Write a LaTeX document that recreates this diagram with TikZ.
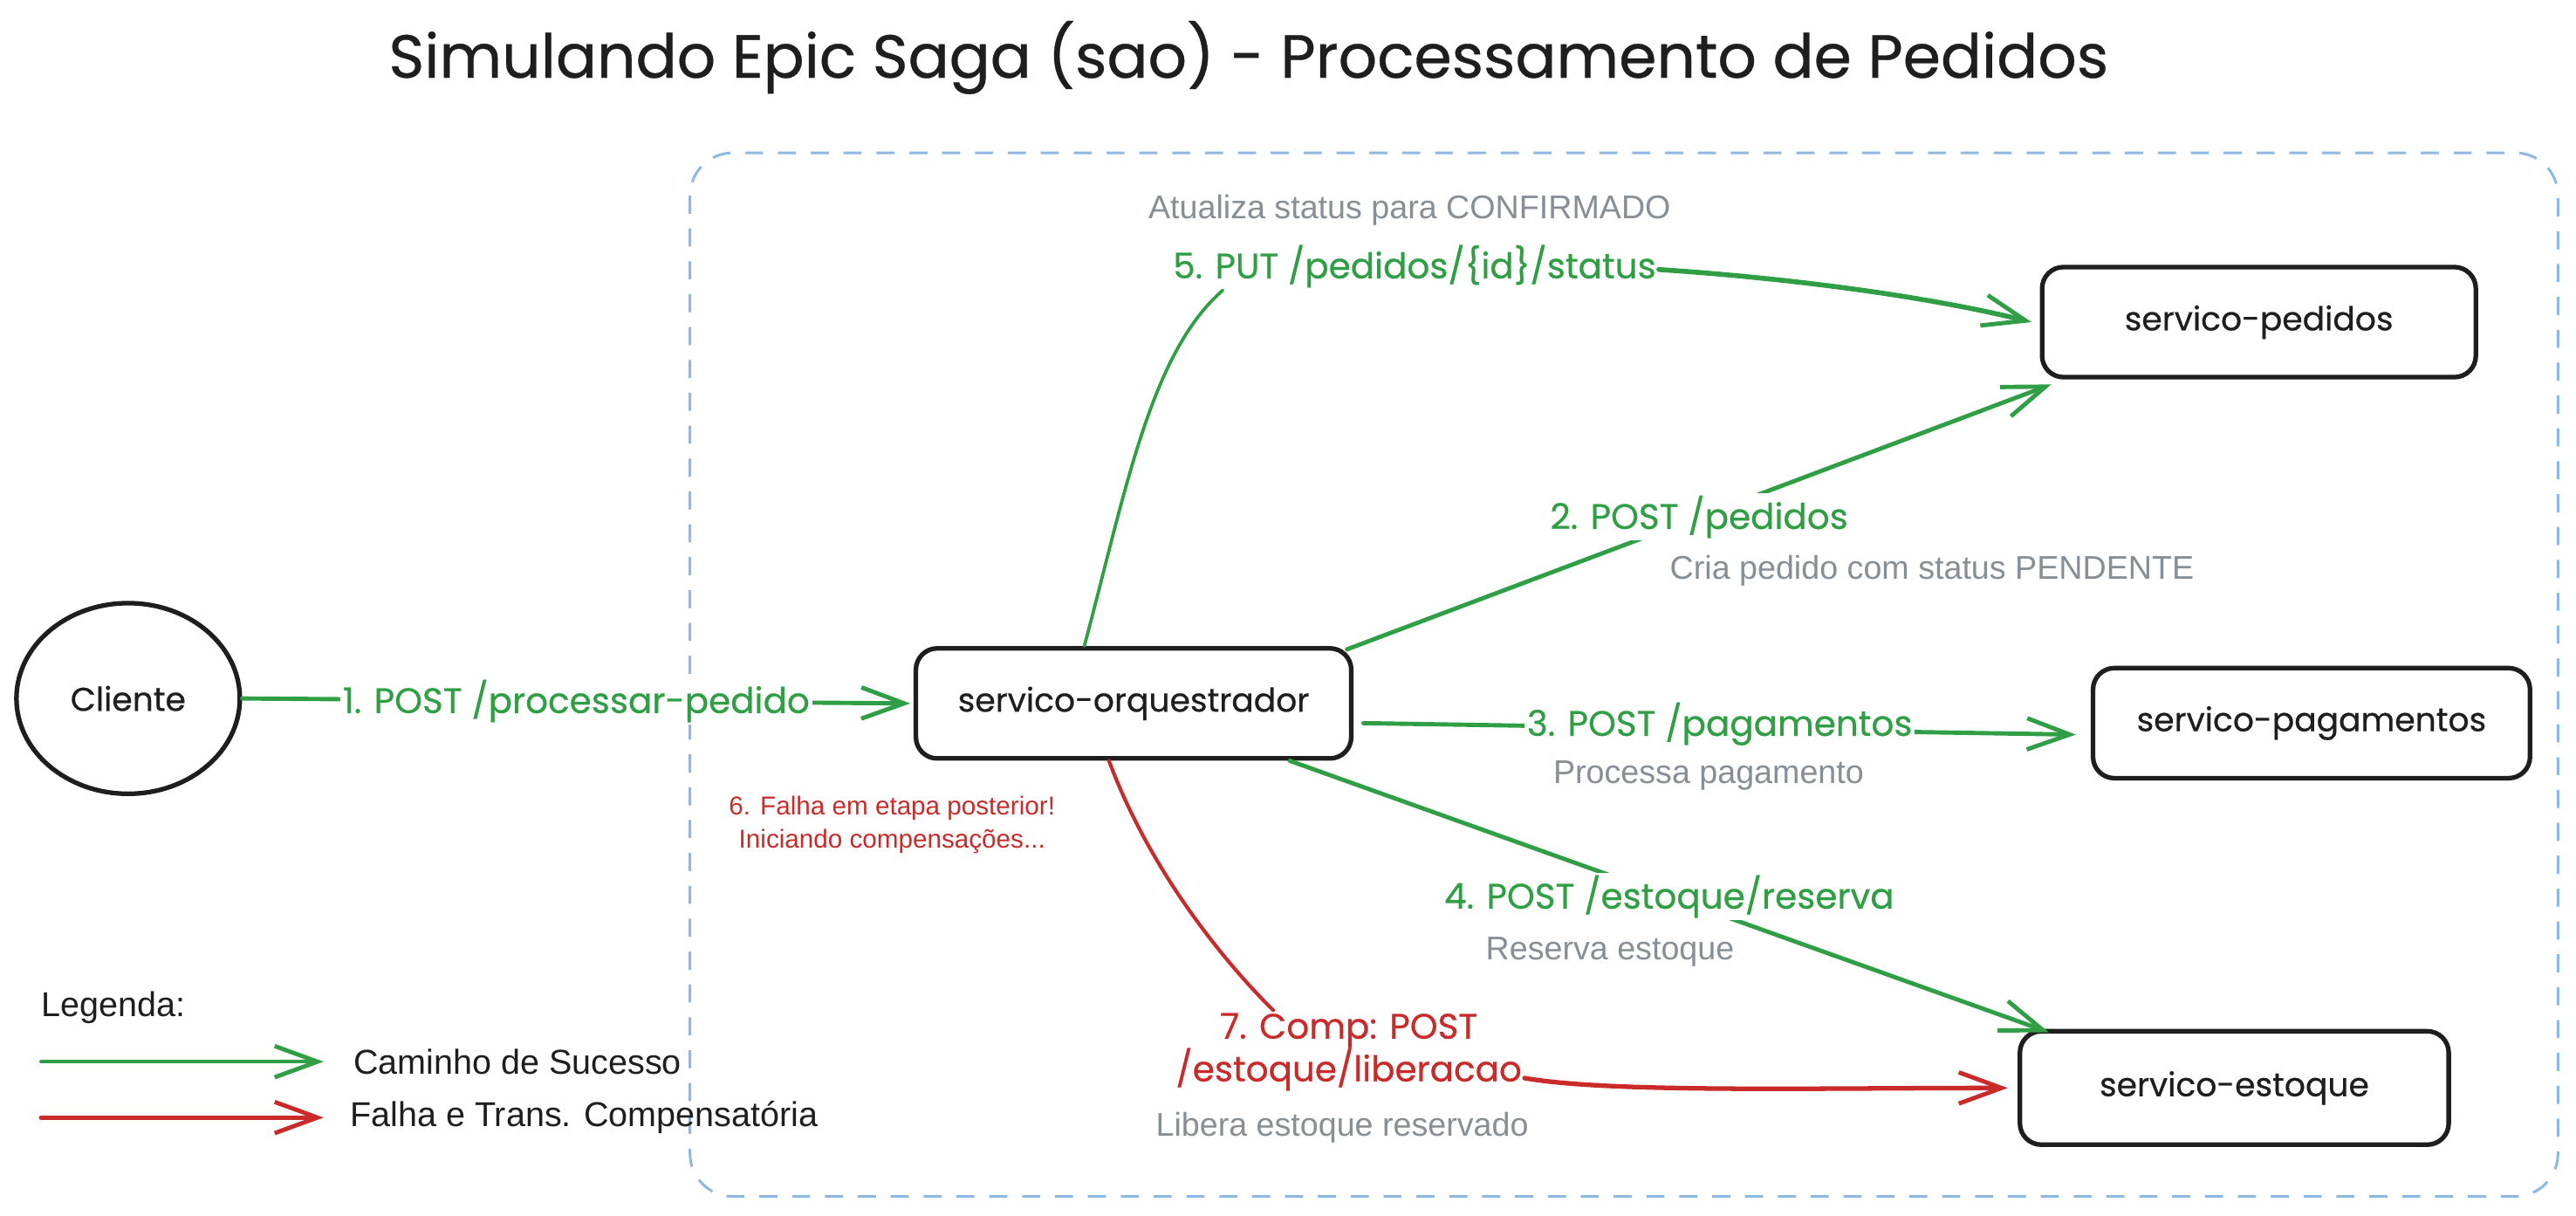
\documentclass[tikz,border=0pt]{standalone}
\usepackage{fontspec}
\setmainfont{Liberation Sans}
\newfontfamily\hand[FakeBold=0.5]{Poppins}
\usetikzlibrary{arrows.meta,calc,shapes.geometric}
\definecolor{sgreen}{HTML}{2F9E44}
\definecolor{sred}{HTML}{C92A2A}
\definecolor{sgray}{HTML}{868E96}
\definecolor{sblue}{HTML}{8DB8E4}
\definecolor{sink}{HTML}{1E1E1E}
\begin{document}
\begin{tikzpicture}[x=1pt,y=-1pt,
  svc/.style={draw=sink, line width=2.8pt, rounded corners=13pt, fill=white, inner sep=0pt,
    minimum width=265pt, minimum height=67pt, text=sink, font=\hand\fontsize{20}{24}\selectfont},
  lbl/.style={fill=white, inner sep=1.5pt, font=\hand\fontsize{21.5}{26}\selectfont, align=center},
  desc/.style={text=sgray, inner sep=0pt, font=\fontsize{20}{24}\selectfont},
  okline/.style={draw=sgreen, line width=2.6pt, line cap=round},
  okarrow/.style={okline, -{Straight Barb[length=26pt,width=19pt,line width=2.6pt]}},
  failline/.style={draw=sred, line width=2.2pt, line cap=round},
  failarrow/.style={failline, line width=2.8pt, -{Straight Barb[length=26pt,width=19pt,line width=2.6pt]}},
  legtext/.style={anchor=west, inner sep=0pt, text=sink, font=\fontsize{21}{25}\selectfont}
]
\useasboundingbox (0,0) rectangle (1568,739.4);
% container
\draw[sblue, line width=1.6pt, dash pattern=on 11pt off 9pt, rounded corners=26pt] (420,93) rectangle (1557,728);

% title
\node[text=sink, font=\hand\fontsize{37}{44}\selectfont] (title) at (760,35) {Simulando Epic Saga (sao) - Processamento de Pedidos};

% nodes
\node[ellipse, draw=sink, line width=2.8pt, fill=white, minimum width=136pt, minimum height=116pt, inner sep=0pt,
  text=sink, font=\hand\fontsize{20}{24}\selectfont] (cli) at (78,425) {Cliente};
\node[svc] (orq) at (690,428) {servico-orquestrador};
\node[svc, minimum width=264pt] (ped) at (1375,196) {servico-pedidos};
\node[svc, minimum width=266pt] (pag) at (1407,440) {servico-pagamentos};
\node[svc, minimum width=261pt, minimum height=69pt] (est) at (1360,662) {servico-estoque};

% 1
\draw[okarrow] (cli.east) -- node[lbl, text=sgreen] (l1) {1. POST /processar-pedido} ([xshift=-2pt]orq.west);
% 2
\draw[okarrow] ([xshift=-4pt,yshift=-2pt]orq.north east) -- node[lbl, text=sgreen] (l2) {2. POST /pedidos} ([xshift=7pt,yshift=-3pt]ped.south west);
\node[desc] (d2) at (1176,347) {Cria pedido com status PENDENTE};
% 3
\draw[okarrow] ([xshift=6pt,yshift=-12pt]orq.east) -- node[lbl, text=sgreen, yshift=3pt] (l3) {3. POST /pagamentos} ([xshift=-9pt,yshift=-7pt]pag.west);
\node[desc] (d3) at (1040,472) {Processa pagamento};
% 4
\draw[okarrow] ([xshift=95pt]orq.south) -- node[lbl, text=sgreen] (l4) {4. POST /estoque/reserva} ([xshift=19pt,yshift=-2pt]est.north west);
\node[desc] (d4) at (980,579) {Reserva estoque};
% 5
\node[lbl, text=sgreen] (l5) at (861,162) {5. PUT /pedidos/\{id\}/status};
\draw[okline, line width=2pt] ([xshift=-30pt]orq.north) .. controls (685,300) and (700,215) .. ([xshift=32pt]l5.south west);
\draw[okarrow, line width=3pt] ([yshift=-2pt]l5.east) .. controls (1100,170) and (1180,182) .. ([xshift=-5pt]ped.west);
\node[desc] (d5) at (858,128) {Atualiza status para CONFIRMADO};

% 6
\node[text=sred, align=center, inner sep=0pt, font=\fontsize{15.75}{20}\selectfont] (l6) at (543,502) {6. Falha em etapa posterior!\\Iniciando compensações...};
% 7
\node[lbl, text=sred] (l7) at (821,640) {7. Comp: POST\\/estoque/liberacao};
\draw[failline] ([xshift=-15pt]orq.south) .. controls (700,530) and (745,585) .. ([xshift=-46pt]l7.north);
\draw[failarrow] ([yshift=-16pt]l7.east) .. controls (980,665) and (1100,662) .. ([xshift=-6pt]est.west);
\node[desc] (d7) at (817,686) {Libera estoque reservado};

% legend
\node[legtext] (leg) at (25,613) {Legenda:};
\coordinate (ga) at (25,646);
\coordinate (gb) at (197,646);
\coordinate (ra) at (25,680);
\coordinate (rb) at (197,680);
\draw[okarrow, line width=2.2pt] (ga) -- (gb);
\draw[failarrow] (ra) -- (rb);
\node[legtext] (lg) at (215,646) {Caminho de Sucesso};
\node[legtext] (lr) at (213,680) {Falha e Trans. Compensatória};
\end{tikzpicture}
\end{document}
